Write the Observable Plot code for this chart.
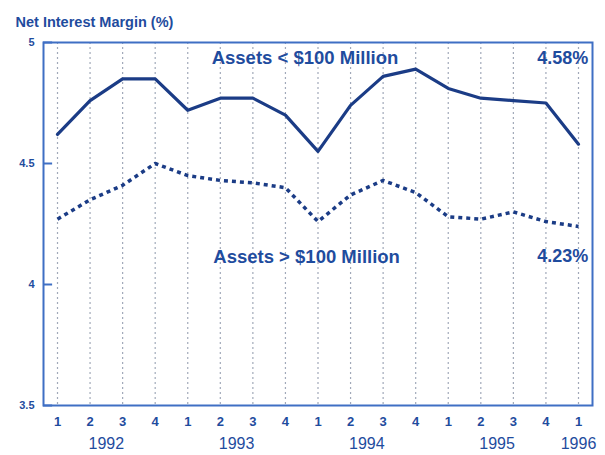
<!DOCTYPE html>
<html><head><meta charset="utf-8">
<script src="https://cdn.jsdelivr.net/npm/d3@7"></script>
<script src="https://cdn.jsdelivr.net/npm/@observablehq/plot@0.6"></script>
<style>
body{margin:0;background:#fff;}
</style>
</head><body><div id="chart"></div>
<script>
const quarters = ["1","2","3","4","1","2","3","4","1","2","3","4","1","2","3","4","1"];
const years = ["1992","1993","1994","1995","1996"];
const yearPos = [1.5, 5.5, 9.5, 13.5, 16];
const small = [4.62,4.76,4.85,4.85,4.72,4.77,4.77,4.70,4.55,4.74,4.86,4.89,4.81,4.77,4.76,4.75,4.58];
const large = [4.27,4.35,4.41,4.50,4.45,4.43,4.42,4.40,4.26,4.37,4.43,4.38,4.28,4.27,4.30,4.26,4.24];
const yTicks = [3.5, 4, 4.5, 5];
const title = "Net Interest Margin (%)";
const seriesLabels = [
  {x: 7.6, y: 4.935, text: "Assets < $100 Million"},
  {x: 7.65, y: 4.115, text: "Assets > $100 Million"}
];
const endLabels = [
  {x: 16.3, y: 4.935, text: "4.58%"},
  {x: 16.3, y: 4.115, text: "4.23%"}
];

const idx = d3.range(quarters.length);
const blue = "#1f4c9e";
const navy = "#1b3c86";
const font = "Liberation Sans, Arial, sans-serif";
const x0 = -0.43, x1 = 16.43;

const chart = Plot.plot({
  width: 605,
  height: 455,
  marginLeft: 43,
  marginRight: 13,
  marginTop: 42,
  marginBottom: 50,
  style: {fontFamily: font, background: "#fff", overflow: "visible"},
  x: {domain: [x0, x1], axis: null, label: null},
  y: {domain: [3.5, 5], axis: null, label: null},
  marks: [
    Plot.ruleX(idx, {x: d => d, stroke: "#8a93a8", strokeWidth: 1.2, strokeDasharray: "2,3", strokeOpacity: 0.8}),
    Plot.frame({stroke: "#3f6fc4", strokeWidth: 2}),
    Plot.ruleY(yTicks, {y: d => d, x1: x0, x2: x0 + 0.28, stroke: "#3f6fc4", strokeWidth: 2}),
    Plot.axisY({ticks: yTicks, tickSize: 0, tickPadding: 9, tickFormat: d => String(d), fill: blue, fontWeight: "bold", fontSize: 11, label: null}),
    Plot.axisX({ticks: idx, tickSize: 0, tickPadding: 11, tickFormat: i => quarters[i], fill: blue, fontWeight: "bold", fontSize: 13, label: null}),
    Plot.text(years, {x: (d, i) => yearPos[i], text: d => d, frameAnchor: "bottom", dy: 43, fill: blue, fontSize: 16}),
    Plot.line(idx, {x: d => d, y: d => large[d], stroke: navy, strokeWidth: 3.5, strokeDasharray: "4,4", strokeLinecap: "butt"}),
    Plot.line(idx, {x: d => d, y: d => small[d], stroke: navy, strokeWidth: 3.2}),
    Plot.text(seriesLabels, {x: "x", y: "y", text: "text", textAnchor: "middle", fill: blue, fontSize: 18.5, fontWeight: "bold"}),
    Plot.text(endLabels, {x: "x", y: "y", text: "text", textAnchor: "end", fill: blue, fontSize: 18, fontWeight: "bold"}),
    Plot.text([title], {text: d => d, frameAnchor: "top-left", dx: -28, dy: -26, textAnchor: "start", fill: blue, fontSize: 14.5, fontWeight: "bold"})
  ]
});
document.getElementById("chart").appendChild(chart);
</script>
</body></html>
